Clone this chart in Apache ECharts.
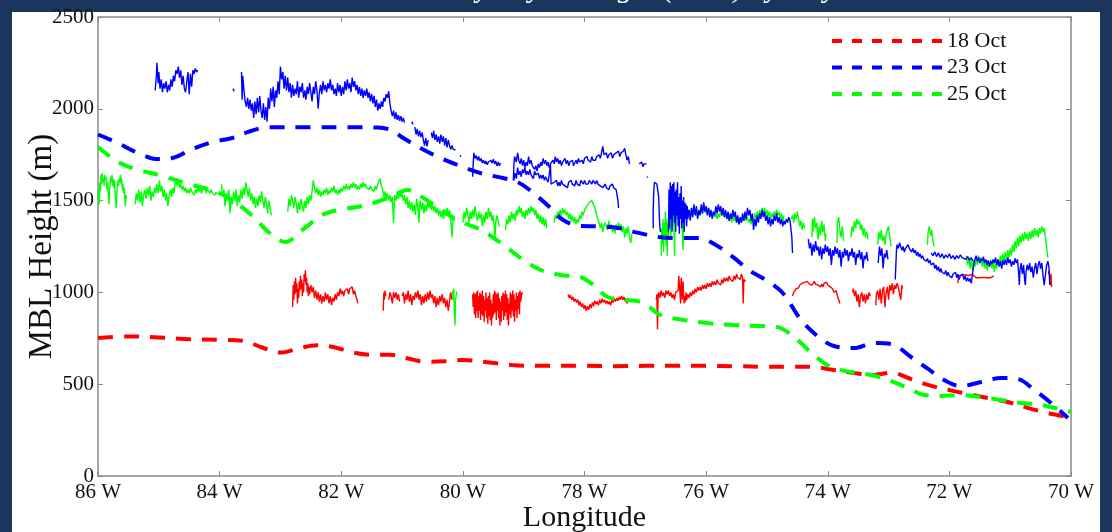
<!DOCTYPE html>
<html>
<head>
<meta charset="utf-8">
<script src="https://cdn.jsdelivr.net/npm/echarts@6/dist/echarts.min.js"></script>
<style>
  html, body { margin: 0; padding: 0; background: #1a365d; }
  #chart { width: 1112px; height: 532px; }
</style>
</head>
<body>
<div id="chart"></div>
<script>
// Marine boundary layer height vs. longitude (degrees West)
const titleText = 'Marine Boundary Layer Height (MBL) by Day';
const legendNames = ['18 Oct', '23 Oct', '25 Oct'];
const xTickValues = [86, 84, 82, 80, 78, 76, 74, 72, 70];
const yTickValues = [0, 500, 1000, 1500, 2000, 2500];

// Model MBL height per day, [longitude W, height m]
const model18Oct = [[86.0,752],[85.5,760],[85.0,755],[84.5,745],[84.0,742],[83.6,735],[83.3,700],[83.0,672],[82.7,695],[82.4,712],[82.1,700],[81.8,672],[81.5,660],[81.2,660],[80.9,640],[80.6,622],[80.3,625],[80.0,632],[79.6,620],[79.2,605],[78.8,600],[78.4,600],[78.0,600],[77.5,598],[77.0,600],[76.5,600],[76.0,600],[75.5,598],[75.0,595],[74.6,595],[74.28,595],[73.9,577],[73.57,561],[73.24,550],[72.96,563],[72.63,528],[72.35,496],[72.0,468],[71.7,447],[71.37,425],[71.04,403],[70.7,370],[70.38,343],[70.0,318]];
const model23Oct = [[86.0,1860],[85.67,1813],[85.34,1759],[85.01,1726],[84.78,1732],[84.45,1781],[84.12,1819],[83.79,1841],[83.53,1874],[83.2,1900],[82.5,1900],[81.9,1900],[81.4,1898],[81.19,1885],[80.98,1841],[80.7,1786],[80.37,1732],[80.09,1694],[79.71,1650],[79.43,1629],[79.1,1601],[78.84,1541],[78.56,1460],[78.35,1394],[78.07,1362],[77.77,1360],[77.44,1351],[77.11,1324],[76.78,1302],[76.45,1296],[76.12,1296],[75.84,1258],[75.56,1193],[75.3,1122],[75.02,1068],[74.74,997],[74.44,850],[74.15,757],[73.9,708],[73.57,697],[73.24,724],[72.96,719],[72.63,648],[72.35,583],[72.09,523],[71.81,490],[71.48,512],[71.15,534],[70.87,528],[70.6,468],[70.33,398],[70.05,316]];
const model25Oct = [[86.0,1792],[85.67,1710],[85.34,1667],[85.01,1640],[84.5,1590],[84.0,1540],[83.7,1480],[83.42,1405],[83.2,1329],[82.92,1275],[82.64,1340],[82.31,1422],[82.05,1449],[81.74,1465],[81.47,1487],[81.19,1520],[80.91,1558],[80.65,1514],[80.4,1460],[80.1,1395],[79.7,1340],[79.33,1258],[79.05,1187],[78.72,1122],[78.4,1095],[78.07,1084],[77.85,1040],[77.62,975],[77.29,959],[77.03,942],[76.75,877],[76.37,850],[75.98,833],[75.55,822],[75.1,817],[74.82,811],[74.66,784],[74.44,724],[74.23,659],[73.95,594],[73.62,566],[73.29,550],[73.01,523],[72.68,479],[72.42,441],[72.14,436],[71.86,441],[71.48,430],[71.15,414],[70.82,398],[70.49,387],[70.12,359],[70.0,350]];

// Lidar-derived MBL height, one array of [longitude W, height m] per continuous track
const lidar18Oct = [
  [[82.8,920],[82.79,1040],[82.78,960],[82.77,1060],[82.76,990],[82.75,1080],[82.74,1000],[82.73,1050],[82.72,940],[82.71,1020],[82.7,970],[82.69,1060],[82.68,1010],[82.67,1090],[82.66,1020],[82.65,1070],[82.64,980],[82.63,1050],[82.62,1000],[82.61,1100],[82.6,1060],[82.59,1120],[82.58,1040],[82.57,1080],[82.56,1000],[82.55,1050],[82.54,980],[82.53,1030],[82.52,990],[82.5,1040],[82.48,1000],[82.46,1030],[82.44,970],[82.42,1010],[82.4,960],[82.38,1000],[82.36,950],[82.34,990],[82.32,940],[82.3,980],[82.28,950],[82.26,1000],[82.24,960],[82.22,990],[82.2,940],[82.18,980],[82.16,930],[82.14,970],[82.12,950],[82.1,990],[82.08,960],[82.06,1000],[82.04,980],[82.02,1020],[82.0,990],[81.98,1010],[81.96,980],[81.94,1010],[81.92,1000],[81.9,1020],[81.88,990],[81.86,1020],[81.84,1010],[81.82,1030],[81.8,990],[81.78,1010],[81.76,980],[81.74,960],[81.73,940]],
  [[81.31,900],[81.3,1000],[81.29,960],[81.28,1010],[81.27,980]],
  [[81.22,960],[81.2,1000],[81.18,980],[81.16,940],[81.14,1000],[81.12,970],[81.1,1000],[81.08,960],[81.06,990],[81.04,950]],
  [[81.0,980],[80.98,1000],[80.96,940],[80.94,990],[80.92,960],[80.9,1010],[80.88,950],[80.86,990],[80.84,930],[80.82,980],[80.8,960],[80.78,1000],[80.76,970],[80.74,1010],[80.72,960],[80.7,990],[80.68,930],[80.66,980],[80.64,940],[80.62,990],[80.6,950],[80.58,1000],[80.56,960],[80.54,1010],[80.52,970],[80.5,990],[80.48,940],[80.46,980],[80.44,920],[80.42,970],[80.4,930],[80.38,980],[80.36,950],[80.34,990],[80.32,940],[80.3,970],[80.28,920],[80.26,960],[80.24,900],[80.22,950],[80.2,1000],[80.18,960]],
  [[79.84,990],[79.83,920],[79.82,1000],[79.81,880],[79.8,990],[79.79,860],[79.78,1000],[79.77,900],[79.76,1010],[79.75,860],[79.74,980],[79.73,900],[79.72,1000],[79.71,850],[79.7,990],[79.69,880],[79.68,1010],[79.67,870],[79.66,980],[79.65,840],[79.64,960],[79.63,900],[79.62,1000],[79.61,860],[79.6,970],[79.59,830],[79.58,980],[79.57,870],[79.56,1000],[79.55,850],[79.54,960],[79.53,820],[79.52,940],[79.51,860],[79.5,990],[79.49,880],[79.48,1010],[79.47,890],[79.46,1000],[79.45,850],[79.44,990],[79.43,900],[79.42,1000],[79.41,860],[79.4,970],[79.39,820],[79.38,950],[79.37,840],[79.36,980],[79.35,900],[79.34,1000],[79.33,850],[79.32,990],[79.31,870],[79.3,1010],[79.29,890],[79.28,990],[79.27,850],[79.26,970],[79.25,820],[79.24,940],[79.23,880],[79.22,1000],[79.21,860],[79.2,990],[79.19,900],[79.18,1010],[79.17,870],[79.16,990],[79.15,840],[79.14,960],[79.13,900],[79.12,1000],[79.11,860],[79.1,980],[79.09,910],[79.08,1000],[79.07,880],[79.06,1010],[79.05,950],[79.03,1000],[79.02,990]],
  [[78.27,990],[78.25,970],[78.23,985],[78.21,960],[78.19,975],[78.17,950],[78.15,965],[78.13,945],[78.11,960],[78.09,930],[78.07,950],[78.05,920],[78.03,940],[78.01,910],[77.99,930],[77.97,900],[77.95,925],[77.93,905],[77.91,935],[77.89,915],[77.87,945],[77.85,925],[77.83,955],[77.81,935],[77.79,950],[77.77,930],[77.75,960],[77.73,940],[77.71,965],[77.69,945],[77.67,960],[77.65,940],[77.63,955],[77.61,935],[77.59,950],[77.57,930],[77.55,960],[77.53,945],[77.51,965],[77.49,950],[77.47,970],[77.45,955],[77.43,975],[77.41,960],[77.39,980],[77.37,960],[77.35,975],[77.33,955],[77.31,965],[77.29,940]],
  [[76.82,960],[76.81,990],[76.8,800],[76.79,980],[76.78,1000],[76.76,970],[76.74,1010],[76.72,980],[76.7,1000],[76.68,970],[76.66,1010],[76.64,990],[76.62,1010],[76.6,980],[76.58,1000],[76.56,970],[76.54,990],[76.52,960],[76.5,1000],[76.48,990],[76.46,1010],[76.45,1090],[76.44,1100],[76.43,1000],[76.42,940],[76.41,1080],[76.4,1020],[76.39,960],[76.38,1060],[76.37,990],[76.36,940],[76.35,980],[76.34,950],[76.33,1000],[76.32,960],[76.3,990],[76.28,970],[76.26,1000],[76.24,980],[76.22,1010],[76.2,990],[76.18,1020],[76.16,1000],[76.14,1030],[76.12,1010],[76.1,1030],[76.08,1010],[76.06,1040],[76.04,1020],[76.02,1040],[76.0,1020],[75.98,1050],[75.96,1030],[75.94,1050],[75.92,1030],[75.9,1060],[75.88,1040],[75.86,1060],[75.84,1040],[75.82,1070],[75.8,1050],[75.78,1060],[75.76,1040],[75.74,1070],[75.72,1050],[75.7,1080],[75.68,1060],[75.66,1080],[75.64,1060],[75.62,1090],[75.6,1070],[75.58,1080],[75.56,1060],[75.54,1090],[75.52,1070],[75.5,1100],[75.48,1080],[75.46,1090],[75.44,1070],[75.42,1100],[75.4,1080],[75.39,940],[75.38,1070],[75.36,1080],[75.35,1060]],
  [[74.58,980],[74.56,1000],[74.54,1010],[74.52,1020],[74.5,1030],[74.48,1025],[74.46,1040],[74.44,1030],[74.42,1050],[74.4,1040],[74.38,1055],[74.36,1045],[74.34,1060],[74.32,1050],[74.3,1045],[74.28,1055],[74.26,1040],[74.24,1050],[74.22,1060],[74.2,1045],[74.18,1055],[74.16,1040],[74.14,1050],[74.12,1030],[74.1,1045],[74.08,1030],[74.06,1050],[74.04,1040],[74.02,1055],[74.0,1040],[73.98,1050],[73.96,1030],[73.94,1040],[73.92,1020],[73.9,1000],[73.88,990],[73.86,1010],[73.84,980],[73.82,960],[73.8,940]],
  [[73.59,1000],[73.58,1020],[73.56,980],[73.54,1010],[73.52,950],[73.5,990],[73.48,920],[73.46,980],[73.44,1000],[73.42,950],[73.4,990],[73.38,940],[73.36,990],[73.34,960],[73.32,1000],[73.3,980]],
  [[73.21,930],[73.2,990],[73.18,1010],[73.16,960],[73.14,1020],[73.12,940],[73.1,1010],[73.08,1030],[73.06,920],[73.04,1000],[73.02,1030],[73.0,960],[72.98,1040],[72.96,1010],[72.94,1050],[72.92,990],[72.9,1040],[72.88,1020],[72.86,1050],[72.84,1030],[72.82,1040],[72.8,960],[72.78,1040],[72.77,1020]],
  [[71.86,1050],[71.85,1090],[71.83,1085],[71.8,1095],[71.77,1090],[71.74,1095],[71.71,1088],[71.68,1092],[71.65,1090],[71.62,1098],[71.59,1090],[71.56,1080],[71.53,1070],[71.5,1080],[71.47,1075],[71.44,1082],[71.41,1076],[71.38,1080],[71.35,1072],[71.32,1080],[71.29,1076],[71.27,1090]],
  [[70.37,1100],[70.36,1120],[70.35,1080],[70.34,1040],[70.33,1100],[70.32,1030]]
];

const lidar23Oct = [
  [[85.06,2100],[85.04,2180],[85.03,2250],[85.01,2140],[85.0,2200],[84.98,2110],[84.96,2160],[84.94,2090],[84.92,2140],[84.9,2110],[84.88,2150],[84.86,2090],[84.84,2130],[84.82,2100],[84.8,2160],[84.78,2120],[84.76,2180],[84.74,2150],[84.72,2210],[84.7,2190],[84.68,2230],[84.66,2170],[84.64,2210],[84.62,2130],[84.6,2180],[84.58,2110],[84.56,2090],[84.54,2150],[84.52,2200],[84.5,2080],[84.48,2190],[84.46,2120],[84.44,2210],[84.42,2190],[84.4,2220],[84.38,2200],[84.36,2210]],
  [[83.78,2110],[83.76,2095]],
  [[83.64,2200],[83.63,2050],[83.62,2180],[83.6,2100],[83.58,2040],[83.56,2010],[83.54,2060],[83.52,2000],[83.5,2050],[83.48,1990],[83.46,2030],[83.44,1950],[83.42,2040],[83.4,1970],[83.38,2060],[83.36,1980],[83.34,2070],[83.32,1990],[83.3,1950],[83.28,2030],[83.26,1940],[83.24,2010],[83.22,1930],[83.2,2060],[83.18,2000],[83.16,2110],[83.14,2040],[83.12,2120],[83.1,2010],[83.08,2100],[83.06,2060],[83.04,2150],[83.02,2080],[83.0,2230],[82.98,2160],[82.96,2200],[82.94,2110],[82.92,2180],[82.9,2100],[82.88,2170],[82.86,2090],[82.84,2140],[82.82,2060],[82.8,2130],[82.78,2070],[82.76,2110],[82.74,2080],[82.72,2150],[82.7,2060],[82.68,2120],[82.66,2090],[82.64,2140],[82.62,2060],[82.6,2100],[82.58,2050],[82.56,2120],[82.54,2080],[82.52,2140],[82.5,2090],[82.48,2040],[82.46,2120],[82.44,2080],[82.42,2150],[82.4,2100],[82.38,2000],[82.36,2090],[82.34,2130],[82.32,2080],[82.3,2150],[82.28,2100],[82.26,2130],[82.24,2090],[82.22,2140],[82.2,2110],[82.18,2160],[82.16,2100],[82.14,2130],[82.12,2080],[82.1,2110],[82.08,2070],[82.06,2140],[82.04,2090],[82.02,2130],[82.0,2070],[81.98,2120],[81.96,2080],[81.94,2150],[81.92,2100],[81.9,2160],[81.88,2110],[81.86,2140],[81.84,2090],[81.82,2170],[81.8,2120],[81.78,2150],[81.76,2100],[81.74,2130],[81.72,2080],[81.7,2120],[81.68,2070],[81.66,2110],[81.64,2060],[81.62,2100],[81.6,2070],[81.58,2110],[81.56,2060],[81.54,2090],[81.52,2040],[81.5,2080],[81.48,2030],[81.46,2070],[81.44,2010],[81.42,2050],[81.4,1990],[81.38,2030],[81.36,2000],[81.34,2040],[81.32,2010],[81.3,2060],[81.28,2040],[81.26,2080],[81.24,2060],[81.22,2095],[81.2,2030],[81.18,1990],[81.16,1960],[81.14,1990],[81.12,1945],[81.1,1980],[81.08,1940],[81.06,1965],[81.04,1935],[81.02,1960],[81.0,1930],[80.98,1950],[80.96,1925]],
  [[80.84,1930],[80.82,1915]],
  [[80.79,1900],[80.77,1860],[80.75,1890],[80.73,1850],[80.71,1880],[80.69,1846],[80.67,1870],[80.65,1830],[80.63,1800],[80.61,1840],[80.59,1795],[80.57,1830]],
  [[80.52,1870],[80.5,1840],[80.48,1880],[80.46,1830],[80.44,1860],[80.42,1820],[80.4,1850],[80.38,1810],[80.36,1860],[80.34,1820],[80.32,1850],[80.3,1800],[80.28,1840],[80.26,1790],[80.24,1830],[80.22,1800],[80.2,1780],[80.18,1800],[80.16,1780],[80.14,1790],[80.12,1775]],
  [[80.05,1740],[80.03,1745]],
  [[79.84,1630],[79.83,1700],[79.82,1760],[79.8,1730],[79.78,1745],[79.76,1720],[79.74,1740],[79.72,1715],[79.7,1730],[79.68,1705],[79.66,1720],[79.64,1700],[79.62,1715],[79.6,1695],[79.58,1710],[79.56,1700],[79.54,1720],[79.52,1705],[79.5,1725],[79.48,1700],[79.46,1715],[79.44,1690],[79.42,1710],[79.4,1690],[79.38,1705]],
  [[79.17,1610],[79.16,1700],[79.15,1740],[79.12,1710],[79.1,1760],[79.08,1720],[79.06,1700],[79.04,1730],[79.02,1690],[79.0,1720],[78.98,1680],[78.96,1710],[78.94,1690],[78.92,1740],[78.9,1700],[78.88,1720],[78.86,1690],[78.84,1700],[78.82,1670],[78.8,1690],[78.78,1660],[78.76,1700],[78.74,1680],[78.72,1710],[78.7,1690],[78.68,1730],[78.66,1700],[78.64,1720],[78.62,1690],[78.6,1710],[78.58,1680],[78.56,1700],[78.54,1690],[78.52,1720],[78.5,1700],[78.48,1740],[78.46,1710],[78.44,1730],[78.42,1700],[78.4,1720],[78.38,1690],[78.36,1710],[78.34,1700],[78.32,1730],[78.3,1700],[78.28,1720],[78.26,1690],[78.24,1710],[78.22,1700],[78.2,1720],[78.18,1690],[78.16,1700],[78.14,1720],[78.12,1700],[78.1,1730],[78.08,1710],[78.06,1700],[78.04,1720],[78.02,1700],[78.0,1730],[77.98,1720],[77.96,1740],[77.94,1720],[77.92,1730],[77.9,1710],[77.88,1740],[77.86,1720],[77.84,1730],[77.82,1720],[77.8,1740],[77.78,1730],[77.76,1750],[77.74,1730],[77.72,1760],[77.7,1795],[77.68,1750],[77.66,1740],[77.64,1760],[77.62,1730],[77.6,1750],[77.58,1740],[77.56,1760],[77.54,1730],[77.52,1750],[77.5,1740],[77.48,1760],[77.46,1750],[77.44,1770],[77.42,1740],[77.4,1760],[77.38,1750],[77.36,1770],[77.34,1785],[77.32,1750],[77.3,1720],[77.28,1740],[77.26,1700]],
  [[79.16,1610],[79.14,1650],[79.12,1620],[79.1,1680],[79.08,1640],[79.06,1660],[79.04,1630],[79.02,1670],[79.0,1650],[78.98,1680],[78.96,1640],[78.94,1660],[78.92,1640],[78.9,1670],[78.88,1640],[78.86,1650],[78.84,1620],[78.82,1660],[78.8,1640],[78.78,1630],[78.76,1650],[78.74,1620],[78.72,1640],[78.7,1620],[78.68,1640],[78.66,1610],[78.64,1630],[78.62,1620],[78.6,1600],[78.58,1640],[78.56,1700],[78.55,1590],[78.54,1600],[78.52,1580],[78.5,1600],[78.48,1590],[78.46,1610],[78.44,1580],[78.42,1600],[78.4,1580],[78.38,1610],[78.36,1590],[78.34,1600],[78.32,1580],[78.3,1590],[78.28,1570],[78.26,1600],[78.24,1590],[78.22,1610],[78.2,1590],[78.18,1600],[78.16,1580],[78.14,1610],[78.12,1590],[78.1,1600],[78.08,1580],[78.06,1610],[78.04,1600],[78.02,1590],[78.0,1610],[77.98,1590],[77.96,1600],[77.94,1590],[77.92,1610],[77.9,1600],[77.88,1590],[77.86,1610],[77.84,1600],[77.82,1590],[77.8,1610],[77.78,1590],[77.76,1600],[77.74,1580],[77.72,1590],[77.7,1570],[77.68,1580],[77.66,1590],[77.64,1570],[77.62,1580],[77.6,1560],[77.58,1580],[77.56,1570],[77.54,1590],[77.52,1570],[77.5,1580],[77.48,1560],[77.46,1550],[77.45,1500],[77.44,1460]],
  [[77.1,1700],[77.08,1690],[77.06,1710],[77.04,1685],[77.02,1700],[77.0,1690],[76.98,1700]],
  [[76.97,1630],[76.96,1625]],
  [[76.87,1350],[76.87,1450],[76.86,1560],[76.85,1600],[76.83,1610],[76.81,1590],[76.79,1600],[76.78,1520],[76.77,1420],[76.76,1350],[76.75,1330]],
  [[76.62,1330],[76.61,1560],[76.6,1350],[76.59,1600],[76.58,1400],[76.57,1580],[76.56,1330],[76.55,1590],[76.54,1420],[76.53,1600],[76.52,1380],[76.51,1550],[76.5,1330],[76.49,1560],[76.48,1420],[76.47,1600],[76.46,1360],[76.45,1520],[76.44,1320],[76.43,1540],[76.42,1400],[76.41,1580],[76.4,1350],[76.39,1500],[76.38,1380],[76.37,1520],[76.36,1330],[76.35,1490],[76.34,1400],[76.33,1480],[76.32,1360],[76.31,1470],[76.3,1400],[76.28,1450],[76.26,1390],[76.24,1460],[76.22,1410],[76.2,1480],[76.18,1420],[76.16,1470],[76.14,1400],[76.12,1450],[76.1,1420],[76.08,1480],[76.06,1430],[76.04,1490],[76.02,1440],[76.0,1470],[75.98,1420],[75.96,1460],[75.94,1410],[75.92,1450],[75.9,1400],[75.88,1440],[75.86,1420],[75.84,1470],[75.82,1430],[75.8,1480],[75.78,1440],[75.76,1470],[75.74,1420],[75.72,1460],[75.7,1410],[75.68,1450],[75.66,1400],[75.64,1440],[75.62,1390],[75.6,1430],[75.58,1400],[75.56,1450],[75.54,1410],[75.52,1440],[75.5,1380],[75.48,1420],[75.46,1370],[75.44,1410],[75.42,1380],[75.4,1430],[75.38,1390],[75.36,1440],[75.34,1400],[75.32,1460],[75.3,1420],[75.28,1450],[75.26,1390],[75.24,1430],[75.22,1340],[75.2,1400],[75.18,1360],[75.16,1420],[75.14,1380],[75.12,1430],[75.1,1400],[75.08,1450],[75.06,1410],[75.04,1440],[75.02,1390],[75.0,1420],[74.98,1370],[74.96,1410],[74.94,1360],[74.92,1400],[74.9,1370],[74.88,1420],[74.86,1390],[74.84,1430],[74.82,1380],[74.8,1410],[74.78,1370],[74.76,1400],[74.74,1360],[74.72,1390],[74.7,1370],[74.68,1400],[74.66,1380],[74.64,1410],[74.62,1390],[74.6,1400],[74.59,1300],[74.58,1215]],
  [[74.32,1290],[74.3,1240],[74.28,1270],[74.26,1200],[74.24,1260],[74.22,1220],[74.2,1280],[74.18,1230],[74.16,1250],[74.14,1200],[74.12,1250],[74.1,1180],[74.08,1240],[74.06,1210],[74.04,1260],[74.02,1220],[74.0,1250],[73.98,1200],[73.96,1240],[73.94,1150],[73.92,1230],[73.9,1200],[73.88,1250],[73.86,1210],[73.84,1240],[73.82,1190],[73.8,1230],[73.78,1140],[73.76,1220],[73.74,1190],[73.72,1240],[73.7,1200],[73.68,1230],[73.66,1170],[73.64,1220],[73.62,1200],[73.6,1240],[73.58,1190],[73.56,1220],[73.54,1150],[73.52,1210],[73.5,1190],[73.48,1230],[73.46,1180],[73.44,1220],[73.42,1130],[73.4,1200],[73.38,1180],[73.36,1220],[73.34,1170]],
  [[73.17,1160],[73.15,1250],[73.13,1200],[73.11,1240],[73.09,1130],[73.07,1210],[73.05,1190],[73.03,1230],[73.01,1180]],
  [[72.89,1070],[72.88,1150],[72.87,1230],[72.86,1260],[72.84,1240],[72.82,1270],[72.8,1250],[72.78,1230],[72.76,1250],[72.74,1220],[72.72,1240],[72.7,1230],[72.68,1260],[72.66,1240],[72.64,1250],[72.62,1220],[72.6,1240],[72.58,1215],[72.56,1230],[72.54,1200],[72.52,1220],[72.5,1195],[72.48,1210],[72.46,1185],[72.44,1200],[72.42,1180],[72.4,1190],[72.38,1170],[72.36,1185],[72.34,1160],[72.32,1175],[72.3,1150],[72.28,1145],[72.26,1160],[72.24,1130],[72.22,1150],[72.2,1120],[72.18,1140],[72.16,1110],[72.14,1130],[72.12,1110],[72.1,1120],[72.08,1100],[72.06,1120],[72.04,1090],[72.02,1110],[72.0,1090],[71.98,1100],[71.96,1080],[71.94,1100],[71.92,1090],[71.9,1110],[71.88,1080],[71.86,1100],[71.84,1070],[71.82,1090],[71.8,1080],[71.78,1100],[71.76,1070],[71.74,1090],[71.72,1060],[71.7,1080],[71.68,1060],[71.66,1075],[71.64,1050],[71.62,1060],[71.6,1150],[71.58,1180],[71.56,1200],[71.54,1170],[71.52,1190],[71.5,1160],[71.48,1185],[71.46,1170],[71.44,1195],[71.42,1160],[71.4,1180],[71.38,1150],[71.36,1175],[71.34,1140],[71.32,1170],[71.3,1155],[71.28,1180],[71.26,1160],[71.24,1190],[71.22,1150],[71.2,1180],[71.18,1140],[71.16,1170],[71.14,1130],[71.12,1175],[71.1,1150],[71.08,1180],[71.06,1150],[71.04,1190],[71.02,1160],[71.0,1180],[70.98,1140],[70.96,1170],[70.94,1150],[70.92,1185],[70.9,1160],[70.88,1180],[70.86,1100],[70.85,1040],[70.84,1120],[70.82,1160],[70.8,1100],[70.78,1150],[70.76,1060],[70.75,1040],[70.74,1110],[70.72,1150],[70.7,1120],[70.68,1160],[70.66,1110],[70.64,1140],[70.62,1080],[70.6,1130],[70.58,1160],[70.56,1100],[70.54,1150],[70.52,1170],[70.5,1130],[70.48,1160],[70.46,1090],[70.44,1040],[70.43,1030],[70.42,1100],[70.4,1150],[70.38,1170],[70.36,1130],[70.35,1040]],
  [[72.3,1215],[72.27,1200],[72.24,1220],[72.21,1195],[72.18,1215],[72.15,1190],[72.12,1210],[72.09,1185],[72.06,1205],[72.03,1190],[72.0,1210],[71.97,1185],[71.94,1200],[71.91,1180],[71.88,1200],[71.85,1185],[71.82,1205],[71.79,1190],[71.76,1200],[71.73,1180],[71.7,1195],[71.67,1175],[71.64,1190],[71.61,1170]]
];

const lidar25Oct = [
  [[86.0,1500],[85.99,1560],[85.98,1480],[85.97,1600],[85.96,1550],[85.95,1640],[85.94,1590],[85.93,1650],[85.92,1600],[85.91,1620],[85.9,1580],[85.89,1640],[85.88,1610],[85.87,1630],[85.86,1590],[85.85,1560],[85.84,1600],[85.83,1520],[85.82,1480],[85.81,1560],[85.8,1590],[85.79,1630],[85.78,1600],[85.77,1640],[85.76,1580],[85.75,1620],[85.74,1570],[85.73,1610],[85.72,1550],[85.71,1500],[85.7,1460],[85.69,1540],[85.68,1580],[85.67,1610],[85.66,1580],[85.65,1620],[85.64,1600],[85.63,1640],[85.62,1590],[85.61,1620],[85.6,1560],[85.59,1590],[85.58,1540],[85.57,1570],[85.56,1520],[85.55,1470],[85.54,1530],[85.53,1510]],
  [[85.39,1480],[85.37,1540],[85.35,1500],[85.33,1560],[85.31,1490],[85.29,1550],[85.27,1470],[85.25,1530],[85.23,1560],[85.21,1510],[85.19,1570],[85.17,1530],[85.15,1580],[85.13,1500],[85.11,1550],[85.09,1520],[85.07,1570],[85.05,1540],[85.03,1590],[85.01,1540],[84.99,1610],[84.97,1550],[84.95,1580],[84.93,1520],[84.91,1560],[84.89,1500],[84.87,1540],[84.85,1470],[84.83,1530],[84.81,1560],[84.79,1520],[84.77,1570],[84.75,1540],[84.73,1600],[84.71,1620],[84.7,1580],[84.68,1610],[84.66,1570],[84.64,1590],[84.62,1560],[84.6,1580],[84.58,1550],[84.56,1570],[84.54,1540],[84.52,1560],[84.5,1540],[84.48,1570],[84.46,1550],[84.44,1560],[84.42,1530],[84.4,1560],[84.38,1540],[84.36,1580],[84.34,1550],[84.32,1570],[84.3,1540],[84.28,1560],[84.26,1550],[84.24,1580],[84.22,1540],[84.2,1560],[84.18,1550],[84.16,1540],[84.14,1560],[84.12,1540],[84.1,1550],[84.08,1530],[84.06,1545],[84.04,1535]],
  [[83.97,1590],[83.95,1520],[83.93,1560],[83.91,1470],[83.89,1540],[83.87,1500],[83.85,1560],[83.83,1430],[83.81,1520],[83.79,1480],[83.77,1550],[83.75,1500],[83.73,1560],[83.71,1470],[83.69,1530],[83.67,1490],[83.65,1560],[83.63,1510],[83.61,1570],[83.59,1530],[83.57,1600],[83.55,1560],[83.53,1520],[83.51,1570],[83.49,1500],[83.47,1540],[83.45,1480],[83.43,1520],[83.41,1460],[83.39,1510],[83.37,1470],[83.35,1530],[83.33,1490],[83.31,1550],[83.29,1500],[83.27,1460],[83.25,1520],[83.23,1480],[83.21,1430],[83.19,1500],[83.17,1460],[83.15,1420]],
  [[82.88,1440],[82.86,1510],[82.84,1470],[82.82,1530],[82.8,1500],[82.78,1460],[82.76,1520],[82.74,1480],[82.72,1430],[82.7,1490],[82.68,1450],[82.66,1510],[82.64,1470],[82.62,1440],[82.6,1500],[82.58,1460],[82.56,1520],[82.54,1480],[82.52,1530],[82.5,1500],[82.48,1550],[82.46,1610],[82.44,1570],[82.42,1540],[82.4,1570],[82.38,1530],[82.36,1560],[82.34,1520],[82.32,1550],[82.3,1530],[82.28,1560],[82.26,1540],[82.24,1570],[82.22,1530],[82.2,1555],[82.18,1540],[82.16,1570],[82.14,1550],[82.12,1580],[82.1,1540],[82.08,1560],[82.06,1530],[82.04,1560],[82.02,1540],[82.0,1570],[81.98,1550],[81.96,1580],[81.94,1560],[81.92,1590],[81.9,1560],[81.88,1580],[81.86,1560],[81.84,1590],[81.82,1570],[81.8,1600],[81.78,1570],[81.76,1590],[81.74,1560],[81.72,1580],[81.7,1560],[81.68,1590],[81.66,1570],[81.64,1600],[81.62,1575],[81.6,1590],[81.58,1570],[81.56,1580],[81.54,1560],[81.52,1580],[81.5,1560],[81.48,1570],[81.46,1550],[81.44,1580],[81.42,1560],[81.4,1590],[81.38,1600],[81.36,1620],[81.34,1580],[81.32,1560],[81.3,1520],[81.28,1550],[81.26,1510],[81.24,1540],[81.22,1500],[81.2,1530],[81.18,1490],[81.16,1520],[81.14,1380],[81.13,1480],[81.12,1530],[81.1,1500],[81.08,1540],[81.06,1510],[81.04,1550],[81.02,1520],[81.0,1540],[80.98,1500],[80.96,1530],[80.94,1480],[80.92,1520],[80.9,1460],[80.88,1500],[80.86,1450],[80.84,1490],[80.82,1440],[80.8,1480],[80.78,1420],[80.76,1510],[80.74,1460],[80.72,1380],[80.71,1480],[80.7,1500],[80.68,1450],[80.66,1490],[80.64,1430],[80.62,1480],[80.6,1440],[80.58,1500],[80.56,1460],[80.54,1490],[80.52,1450],[80.5,1480],[80.48,1440],[80.46,1470],[80.44,1430],[80.42,1460],[80.4,1420],[80.38,1450],[80.36,1410],[80.34,1440],[80.32,1400],[80.3,1440],[80.28,1420],[80.26,1460],[80.24,1420],[80.22,1450],[80.2,1400],[80.18,1300],[80.16,1420],[80.14,1390]],
  [[80.17,1010],[80.16,960],[80.15,1020],[80.14,900],[80.13,820],[80.12,960],[80.1,1005]],
  [[80.0,1380],[79.98,1440],[79.96,1400],[79.94,1460],[79.92,1420],[79.9,1380],[79.88,1440],[79.86,1400],[79.84,1450],[79.82,1410],[79.8,1470],[79.78,1420],[79.76,1390],[79.74,1440],[79.72,1400],[79.7,1430],[79.68,1360],[79.66,1420],[79.64,1380],[79.62,1440],[79.6,1400],[79.58,1460],[79.56,1410],[79.54,1440],[79.52,1390],[79.5,1420],[79.48,1330],[79.47,1300],[79.46,1380],[79.44,1420],[79.42,1390],[79.4,1360]],
  [[79.3,1340],[79.28,1400],[79.26,1370],[79.24,1420],[79.22,1380],[79.2,1440],[79.18,1400],[79.16,1430],[79.14,1390],[79.12,1450],[79.1,1420],[79.08,1470],[79.06,1430],[79.04,1460],[79.02,1410],[79.0,1440],[78.98,1400],[78.96,1450],[78.94,1420],[78.92,1460],[78.9,1430],[78.88,1470],[78.86,1440],[78.84,1460],[78.82,1420],[78.8,1450],[78.78,1400],[78.76,1430],[78.74,1380],[78.72,1420],[78.7,1370],[78.68,1410],[78.66,1360],[78.64,1400],[78.62,1350]],
  [[78.5,1380],[78.48,1420],[78.46,1400],[78.44,1440],[78.42,1410],[78.4,1450],[78.38,1420],[78.36,1460],[78.34,1430],[78.32,1450],[78.3,1420],[78.28,1440],[78.26,1400],[78.24,1430],[78.22,1390],[78.2,1420],[78.18,1380],[78.16,1410],[78.14,1370],[78.12,1400],[78.1,1380],[78.08,1420],[78.06,1400],[78.04,1440],[78.02,1420],[78.0,1450],[77.98,1440],[77.96,1470],[77.94,1460],[77.92,1490],[77.9,1480],[77.88,1500],[77.86,1490],[77.84,1470],[77.82,1450],[77.8,1420],[77.78,1400],[77.76,1380],[77.74,1350],[77.72,1380],[77.7,1330],[77.68,1360],[77.66,1380],[77.64,1380],[77.62,1340],[77.6,1390],[77.58,1350],[77.56,1370],[77.54,1330],[77.52,1360],[77.5,1320],[77.48,1370],[77.46,1340],[77.44,1380],[77.42,1350],[77.4,1370],[77.38,1330],[77.36,1360],[77.34,1300],[77.32,1350],[77.3,1320],[77.28,1360],[77.26,1300],[77.24,1270],[77.22,1320]],
  [[76.74,1200],[76.73,1350],[76.72,1260],[76.71,1400],[76.7,1220],[76.69,1380],[76.68,1300],[76.67,1440],[76.66,1250],[76.65,1400],[76.64,1200],[76.63,1380],[76.62,1290],[76.61,1420],[76.6,1340],[76.59,1440],[76.58,1300],[76.57,1420],[76.56,1380],[76.55,1450],[76.54,1360],[76.53,1430],[76.52,1200],[76.51,1400],[76.5,1440],[76.48,1400],[76.46,1450],[76.44,1410],[76.42,1460],[76.4,1420],[76.38,1230],[76.37,1400],[76.36,1450],[76.34,1420],[76.32,1460],[76.3,1430],[76.28,1450],[76.26,1420],[76.24,1460],[76.22,1430],[76.2,1450],[76.18,1420],[76.16,1440],[76.14,1410],[76.12,1440],[76.1,1420],[76.08,1450],[76.06,1430],[76.04,1460],[76.02,1440],[76.0,1450],[75.98,1430],[75.96,1460],[75.94,1440],[75.92,1450],[75.9,1420],[75.88,1440],[75.86,1410],[75.84,1430],[75.82,1400],[75.8,1430],[75.78,1410],[75.76,1440],[75.74,1420],[75.72,1440],[75.7,1410],[75.68,1430],[75.66,1400],[75.64,1420],[75.62,1390],[75.6,1410],[75.58,1380],[75.56,1420],[75.54,1390],[75.52,1410],[75.5,1380],[75.48,1400],[75.46,1370],[75.44,1400],[75.42,1380],[75.4,1410],[75.38,1390],[75.36,1420],[75.34,1390],[75.32,1410],[75.3,1380],[75.28,1400],[75.26,1370],[75.24,1410],[75.22,1390],[75.2,1430],[75.18,1400],[75.16,1440],[75.14,1410],[75.12,1450],[75.1,1420],[75.08,1460],[75.06,1430],[75.04,1460],[75.02,1420],[75.0,1450],[74.98,1410],[74.96,1440],[74.94,1400],[74.92,1430],[74.9,1410],[74.88,1440],[74.86,1420],[74.84,1450],[74.82,1420],[74.8,1440],[74.78,1400],[74.76,1430],[74.74,1390],[74.72,1420]],
  [[74.6,1400],[74.58,1420],[74.56,1380],[74.54,1430],[74.52,1400],[74.5,1440],[74.48,1400],[74.46,1360],[74.44,1390],[74.42,1340],[74.4,1380],[74.38,1350]],
  [[74.26,1300],[74.25,1400],[74.24,1330],[74.22,1410],[74.2,1350],[74.18,1380],[74.16,1290],[74.14,1360],[74.12,1310],[74.1,1390],[74.08,1330],[74.06,1370],[74.04,1280],[74.03,1320]],
  [[73.85,1270],[73.84,1380],[73.82,1410],[73.8,1340],[73.78,1300],[73.76,1360],[73.74,1280]],
  [[73.62,1300],[73.6,1360],[73.58,1330],[73.56,1390],[73.54,1350],[73.52,1400],[73.5,1370],[73.48,1390],[73.46,1340],[73.44,1370],[73.42,1310],[73.4,1350],[73.38,1300],[73.36,1330],[73.34,1290]],
  [[73.18,1260],[73.16,1330],[73.14,1290],[73.12,1340],[73.1,1280],[73.08,1310],[73.06,1260],[73.04,1320],[73.02,1340],[73.0,1360],[72.98,1300],[72.96,1250]],
  [[72.36,1260],[72.35,1330],[72.33,1360],[72.31,1310],[72.29,1340],[72.27,1280],[72.25,1250]],
  [[71.72,1200],[71.7,1150],[71.68,1190],[71.66,1130],[71.64,1180],[71.62,1120],[71.6,1170],[71.58,1140],[71.56,1190],[71.54,1150],[71.52,1200],[71.5,1160],[71.48,1190],[71.46,1140],[71.44,1180],[71.42,1130],[71.4,1170],[71.38,1120],[71.36,1160],[71.34,1140],[71.32,1180],[71.3,1130],[71.28,1170],[71.26,1110],[71.24,1160],[71.22,1130],[71.2,1180],[71.18,1150],[71.16,1200],[71.14,1160],[71.12,1210],[71.1,1170],[71.08,1220],[71.06,1180],[71.04,1230],[71.02,1190],[71.0,1240],[70.98,1200],[70.96,1260],[70.94,1220],[70.92,1280],[70.9,1240],[70.88,1300],[70.86,1250],[70.84,1310],[70.82,1270],[70.8,1320],[70.78,1280],[70.76,1330],[70.74,1290],[70.72,1320],[70.7,1280],[70.68,1330],[70.66,1290],[70.64,1340],[70.62,1300],[70.6,1350],[70.58,1310],[70.56,1340],[70.54,1300],[70.52,1350],[70.5,1320],[70.48,1360],[70.46,1330],[70.44,1350],[70.42,1300],[70.4,1240],[70.38,1190]]
];

const dayColors = { '18 Oct': '#ff0000', '23 Oct': '#0000ff', '25 Oct': '#00ff00' };
const serif = '"Liberation Serif", "Times New Roman", serif';

// Join the separate tracks into one line, breaking it between tracks
function joinTracks(tracks) {
  const out = [];
  tracks.forEach((t, i) => {
    if (i > 0) out.push([NaN, NaN]);
    t.forEach(p => out.push(p));
  });
  return out;
}

function lidarSeries(name, tracks) {
  return {
    name: name + ' lidar',
    type: 'line',
    data: joinTracks(tracks),
    symbol: 'none',
    connectNulls: false,
    lineStyle: { color: dayColors[name], width: 1.4 },
    itemStyle: { color: dayColors[name] },
    z: 2,
    silent: true
  };
}

function modelSeries(name, points) {
  return {
    name: name,
    type: 'line',
    data: points,
    symbol: 'none',
    smooth: 0.35,
    lineStyle: { color: dayColors[name], width: 4, type: [15, 11] },
    itemStyle: { color: dayColors[name] },
    z: 5,
    silent: true
  };
}

const chart = echarts.init(document.getElementById('chart'), null, { renderer: 'canvas' });

const axisGray = '#8a8a8a';
const option = {
  animation: false,
  backgroundColor: '#1a365d',
  graphic: [
    { type: 'rect', shape: { x: 12, y: 12, width: 1088, height: 520 }, style: { fill: '#ffffff' }, z: -10, silent: true },
    { type: 'text', x: 556, y: 4, z: -9, silent: true,
      style: { text: titleText, fill: '#ffffff', font: 'italic 30px ' + serif, align: 'center', verticalAlign: 'bottom' } }
  ],
  grid: { left: 98, right: 41, top: 17, bottom: 56, containLabel: false, outerBoundsMode: 'none' },
  legend: {
    data: legendNames,
    left: 830,
    top: 30,
    padding: 0,
    orient: 'vertical',
    itemWidth: 110,
    itemHeight: 14,
    itemGap: 4.5,
    selectedMode: false,
    itemStyle: { color: 'rgba(0,0,0,0)', borderWidth: 0, opacity: 0 },
    lineStyle: { width: 4, type: [10, 10] },
    textStyle: { fontFamily: serif, fontSize: 22, color: '#111' }
  },
  xAxis: [
    {
      type: 'value', min: 70, max: 86, interval: 2, inverse: true,
      name: 'Longitude', nameLocation: 'middle', nameGap: 27, nameMoveOverlap: false,
      nameTextStyle: { fontFamily: serif, fontSize: 30, color: '#111' },
      axisLine: { show: true, onZero: false, lineStyle: { color: axisGray, width: 1.5 } },
      axisTick: { show: true, inside: true, length: 5, lineStyle: { color: axisGray } },
      axisLabel: { margin: 6, fontFamily: serif, fontSize: 21, color: '#111', formatter: v => v + ' W',
                   customValues: xTickValues },
      splitLine: { show: false }
    },
    {
      type: 'value', position: 'top', min: 70, max: 86, interval: 2, inverse: true,
      axisLine: { show: true, onZero: false, lineStyle: { color: axisGray, width: 1.5 } },
      axisTick: { show: true, inside: true, length: 5, lineStyle: { color: axisGray } },
      axisLabel: { show: false },
      splitLine: { show: false }
    }
  ],
  yAxis: [
    {
      type: 'value', min: 0, max: 2500, interval: 500,
      name: 'MBL Height (m)', nameLocation: 'middle', nameGap: 39, nameMoveOverlap: false,
      nameTextStyle: { fontFamily: serif, fontSize: 33, color: '#111' },
      axisLine: { show: true, onZero: false, lineStyle: { color: axisGray, width: 1.5 } },
      axisTick: { show: true, inside: true, length: 5, lineStyle: { color: axisGray } },
      axisLabel: { margin: 4, fontFamily: serif, fontSize: 21, color: '#111', formatter: v => String(v),
                   customValues: yTickValues },
      splitLine: { show: false }
    },
    {
      type: 'value', position: 'right', min: 0, max: 2500, interval: 500,
      axisLine: { show: true, onZero: false, lineStyle: { color: axisGray, width: 1.5 } },
      axisTick: { show: true, inside: true, length: 5, lineStyle: { color: axisGray } },
      axisLabel: { show: false },
      splitLine: { show: false }
    }
  ],
  series: [
    lidarSeries('25 Oct', lidar25Oct),
    lidarSeries('18 Oct', lidar18Oct),
    lidarSeries('23 Oct', lidar23Oct),
    modelSeries('18 Oct', model18Oct),
    modelSeries('23 Oct', model23Oct),
    modelSeries('25 Oct', model25Oct)
  ]
};

chart.setOption(option);
</script>
</body>
</html>
